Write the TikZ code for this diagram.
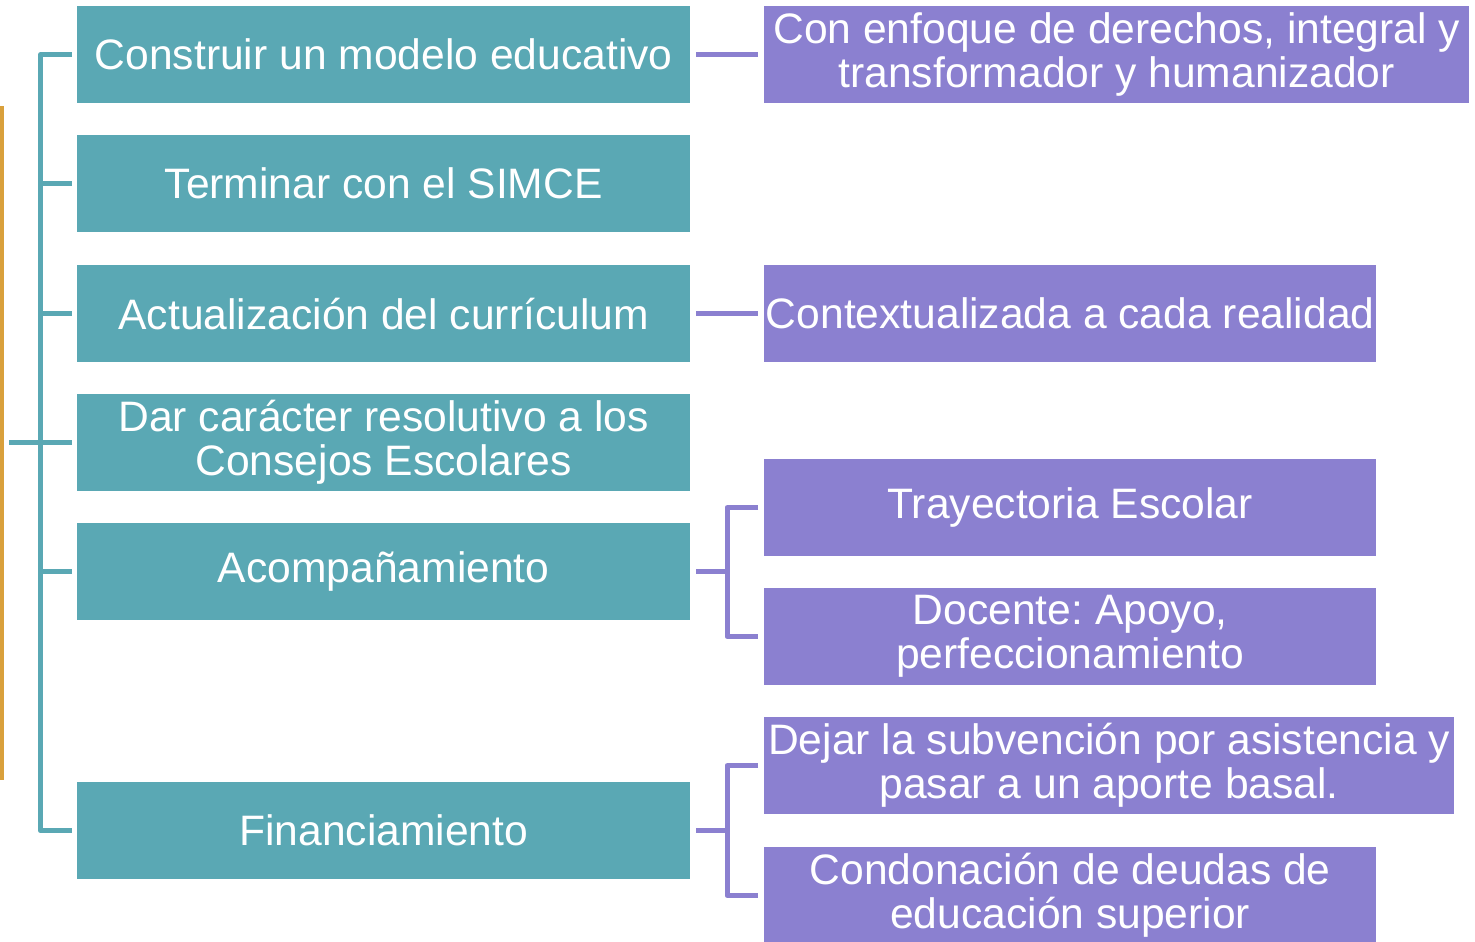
\documentclass[tikz,border=0pt]{standalone}
\usepackage{fontspec}
\setmainfont{Liberation Sans}
\frenchspacing
\definecolor{teal1}{HTML}{5AA8B4}
\definecolor{purp1}{HTML}{8B80D0}
\definecolor{orng1}{HTML}{D9A03C}
\begin{document}
\begin{tikzpicture}[x=1pt,y=-1pt,
  tbox/.style={fill=teal1,draw=none,minimum width=613pt,minimum height=97pt,inner sep=0pt,text=white,font=\fontsize{42.6}{44}\selectfont,align=center,anchor=north west},
  pbox/.style={fill=purp1,draw=none,minimum height=97pt,inner sep=0pt,text=white,font=\fontsize{42.6}{44}\selectfont,align=center,anchor=north west},
  tline/.style={draw=teal1,line width=5pt},
  pline/.style={draw=purp1,line width=5pt}]
\useasboundingbox (0,0) rectangle (1475,942);
\fill[orng1] (0,106) rectangle (4,780);
% teal boxes
\node[tbox] (t1) at (77,6) {Construir un modelo educativo};
\node[tbox] (t2) at (77,135) {Terminar con el SIMCE};
\node[tbox] (t3) at (77,265) {Actualización del currículum};
\node[tbox] (t4) at (77,394) {Dar carácter resolutivo a los\\Consejos Escolares};
\node[tbox] (t5) at (77,523) {Acompañamiento};
\node[tbox] (t6) at (77,782) {Financiamiento};
% purple boxes
\node[pbox,minimum width=705pt] (p1) at (764,6) {Con enfoque de derechos, integral y\\transformador y humanizador};
\node[pbox,minimum width=612pt] (p3) at (764,265) {Contextualizada a cada realidad};
\node[pbox,minimum width=612pt] (p5a) at (764,459) {Trayectoria Escolar};
\node[pbox,minimum width=612pt] (p5b) at (764,588) {Docente: Apoyo,\\perfeccionamiento};
\node[pbox,minimum width=690pt] (p6a) at (764,717) {Dejar la subvención por asistencia y\\pasar a un aporte basal.};
\node[pbox,minimum width=612pt] (p6b) at (764,847) {Condonación de deudas de\\educación superior};
% teal spine
\coordinate (sp) at (40.5,0);
\draw[tline,line join=round] ([xshift=-5pt]t1.west) -| (sp |- t1.west) -- (sp |- t6.west) -- ([xshift=-5pt]t6.west);
\foreach \n in {t2,t3,t4,t5}{\draw[tline] (sp |- \n.west) -- ([xshift=-5pt]\n.west);}
\coordinate (lft) at (9,442.5);
\draw[tline] (lft) -- (sp |- lft);
% purple connectors
\draw[pline] ([xshift=6pt]t1.east) -- ([xshift=-6pt]t1.east -| p1.west);
\draw[pline] ([xshift=6pt]t3.east) -- ([xshift=-6pt]t3.east -| p3.west);
\coordinate (b5) at (727,0);
\draw[pline] ([xshift=6pt]t5.east) -- (b5 |- t5.east);
\draw[pline,line join=round] ([xshift=-6pt]p5a.west) -| (b5 |- p5a.west) |- ([xshift=-6pt]p5b.west);
\draw[pline] ([xshift=6pt]t6.east) -- (b5 |- t6.east);
\draw[pline,line join=round] ([xshift=-6pt]p6a.west) -| (b5 |- p6a.west) |- ([xshift=-6pt]p6b.west);
\end{tikzpicture}
\end{document}
